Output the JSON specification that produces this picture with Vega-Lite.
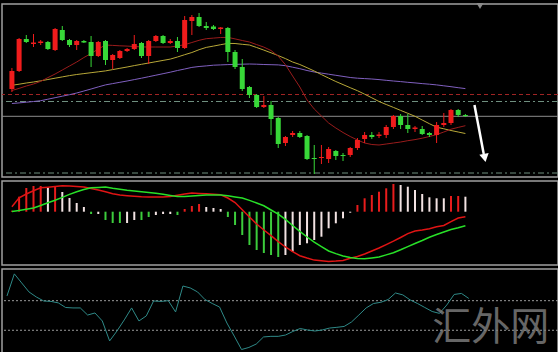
{
"$schema": "https://vega.github.io/schema/vega-lite/v6.json",
"background": "#000000",
"padding": {"left": 0, "top": 2, "right": 2, "bottom": 3},
"spacing": 2,
"config": {"view": {"stroke": "#a0a0a0", "strokeWidth": 1.5}},
"datasets": {
"candles": [
{"i":1,"o":93,"h":114,"l":90,"c":111,"ma1":91.5,"ma2":96.7,"ma3":78.5,"dif":5.0,"dea":0.2,"hist":1,"state":"up","osc":132},
{"i":2,"o":111,"h":144,"l":110,"c":143,"ma1":93.6,"ma2":97.8,"ma3":79.1,"dif":13.9,"dea":1.3,"hist":15,"state":"up","osc":281},
{"i":3,"o":143,"h":147,"l":139,"c":140,"ma1":96,"ma2":99,"ma3":79.8,"dif":17.7,"dea":2.5,"hist":23.7,"state":"up","osc":220},
{"i":4,"o":138,"h":148,"l":135,"c":139.5,"ma1":98,"ma2":100,"ma3":80.5,"dif":21.0,"dea":3.7,"hist":25.7,"state":"up","osc":159},
{"i":5,"o":139,"h":142,"l":137,"c":140.5,"ma1":100.6,"ma2":101.2,"ma3":81.3,"dif":23.9,"dea":6.2,"hist":25.7,"state":"up","osc":125},
{"i":6,"o":140,"h":141,"l":132,"c":133,"ma1":104.4,"ma2":102.5,"ma3":82.8,"dif":24.5,"dea":8.9,"hist":24.7,"state":"weak","osc":98},
{"i":7,"o":132,"h":154,"l":131,"c":153,"ma1":108,"ma2":103.8,"ma3":84.3,"dif":25.2,"dea":11.4,"hist":24.7,"state":"up","osc":95},
{"i":8,"o":152,"h":156,"l":141,"c":142,"ma1":112,"ma2":105.1,"ma3":85.8,"dif":26.0,"dea":14.3,"hist":19.7,"state":"weak","osc":85},
{"i":9,"o":142,"h":143,"l":135,"c":137,"ma1":116,"ma2":106.4,"ma3":87.3,"dif":25.7,"dea":17.3,"hist":13.7,"state":"weak","osc":54},
{"i":10,"o":137,"h":142,"l":132,"c":141,"ma1":120,"ma2":107.5,"ma3":89,"dif":25.3,"dea":20.0,"hist":8.7,"state":"weak","osc":51},
{"i":11,"o":141,"h":142,"l":139,"c":139.5,"ma1":124.5,"ma2":108.4,"ma3":91,"dif":24.7,"dea":22.2,"hist":4.7,"state":"weak","osc":51},
{"i":12,"o":140,"h":146,"l":115,"c":126,"ma1":128.5,"ma2":109.3,"ma3":93,"dif":23.2,"dea":23.9,"hist":-2.3,"state":"down","osc":3},
{"i":13,"o":126,"h":141,"l":125,"c":140,"ma1":133,"ma2":110.2,"ma3":95.1,"dif":21.7,"dea":24.3,"hist":-2.3,"state":"weak","osc":17},
{"i":14,"o":141,"h":142,"l":117,"c":122,"ma1":137,"ma2":111.1,"ma3":97.1,"dif":19.9,"dea":24.7,"hist":-8.3,"state":"down","osc":-37},
{"i":15,"o":122,"h":128,"l":113,"c":127,"ma1":136.6,"ma2":112.4,"ma3":98.4,"dif":18.0,"dea":23.5,"hist":-11.3,"state":"down","osc":-172},
{"i":16,"o":124,"h":132,"l":123,"c":131,"ma1":136.2,"ma2":113.7,"ma3":99.7,"dif":16.6,"dea":22.5,"hist":-11.3,"state":"down","osc":-105},
{"i":17,"o":131,"h":134,"l":130,"c":133,"ma1":135.9,"ma2":115,"ma3":101,"dif":16.0,"dea":21.5,"hist":-11.3,"state":"weak","osc":-30},
{"i":18,"o":133,"h":147,"l":132,"c":138,"ma1":135.5,"ma2":116.4,"ma3":102.4,"dif":15.5,"dea":20.7,"hist":-8.3,"state":"weak","osc":51},
{"i":19,"o":139,"h":140,"l":124,"c":126,"ma1":135.1,"ma2":117.7,"ma3":103.8,"dif":14.9,"dea":20.0,"hist":-8.3,"state":"down","osc":-37},
{"i":20,"o":126,"h":142,"l":118,"c":141,"ma1":135,"ma2":119,"ma3":105.3,"dif":14.7,"dea":19.3,"hist":-5.3,"state":"down","osc":-3},
{"i":21,"o":141,"h":147,"l":140,"c":146,"ma1":135,"ma2":120.3,"ma3":106.8,"dif":14.7,"dea":18.4,"hist":-3.3,"state":"weak","osc":98},
{"i":22,"o":146,"h":147,"l":138,"c":139,"ma1":135,"ma2":121.6,"ma3":108.3,"dif":14.7,"dea":17.4,"hist":-2.3,"state":"weak","osc":95},
{"i":23,"o":139,"h":143,"l":138,"c":141,"ma1":135,"ma2":122.9,"ma3":109.8,"dif":15.2,"dea":16.3,"hist":-2.3,"state":"weak","osc":100},
{"i":24,"o":141,"h":145,"l":130,"c":134,"ma1":136,"ma2":125,"ma3":111.5,"dif":16.5,"dea":15.2,"hist":-3.3,"state":"down","osc":24},
{"i":25,"o":134,"h":166,"l":133,"c":162,"ma1":137.3,"ma2":127.3,"ma3":113,"dif":17.7,"dea":15.1,"hist":2.7,"state":"up","osc":199},
{"i":26,"o":161,"h":167,"l":147,"c":165,"ma1":139.5,"ma2":129.5,"ma3":114.6,"dif":18.7,"dea":15.7,"hist":5.7,"state":"up","osc":186},
{"i":27,"o":165,"h":169,"l":155,"c":156,"ma1":141.7,"ma2":132.3,"ma3":115.5,"dif":18.3,"dea":16.3,"hist":7.7,"state":"up","osc":159},
{"i":28,"o":156,"h":160,"l":152,"c":154,"ma1":143.3,"ma2":134.6,"ma3":116.1,"dif":17.9,"dea":16.7,"hist":4.7,"state":"weak","osc":108},
{"i":29,"o":155.5,"h":157,"l":152,"c":153,"ma1":143.9,"ma2":135.9,"ma3":116.8,"dif":17.5,"dea":16.7,"hist":3.7,"state":"weak","osc":81},
{"i":30,"o":153,"h":155,"l":148,"c":154.5,"ma1":144.5,"ma2":137.3,"ma3":117.1,"dif":16.9,"dea":16.7,"hist":2.7,"state":"weak","osc":57},
{"i":31,"o":154,"h":155,"l":120,"c":130,"ma1":144.6,"ma2":138.6,"ma3":117.4,"dif":13.7,"dea":15.9,"hist":-5.3,"state":"down","osc":-51},
{"i":32,"o":130,"h":132,"l":113,"c":115,"ma1":143.1,"ma2":138.5,"ma3":117.6,"dif":9.2,"dea":14.8,"hist":-13.3,"state":"down","osc":-139},
{"i":33,"o":115,"h":123,"l":91,"c":93,"ma1":141.5,"ma2":137.7,"ma3":117.8,"dif":2.0,"dea":13.7,"hist":-23.3,"state":"down","osc":-230},
{"i":34,"o":95,"h":96,"l":84,"c":87,"ma1":140,"ma2":137,"ma3":118,"dif":-5.3,"dea":11.3,"hist":-33.3,"state":"down","osc":-216},
{"i":35,"o":87,"h":88,"l":74,"c":75,"ma1":137.4,"ma2":134.5,"ma3":117.8,"dif":-12.3,"dea":8.7,"hist":-38.3,"state":"down","osc":-193},
{"i":36,"o":75,"h":86,"l":74,"c":77,"ma1":134.9,"ma2":131.9,"ma3":117.5,"dif":-18.3,"dea":5.9,"hist":-41.3,"state":"down","osc":-145},
{"i":37,"o":77,"h":81,"l":47,"c":63,"ma1":131.5,"ma2":129.2,"ma3":117.3,"dif":-24.0,"dea":1.7,"hist":-43.3,"state":"down","osc":-141},
{"i":38,"o":64,"h":65,"l":34,"c":38,"ma1":125.8,"ma2":126.4,"ma3":117.1,"dif":-29.9,"dea":-2.4,"hist":-45.3,"state":"down","osc":-141},
{"i":39,"o":39,"h":46,"l":36,"c":45,"ma1":117.3,"ma2":123.4,"ma3":116.3,"dif":-35.3,"dea":-7.7,"hist":-43.3,"state":"weak","osc":-132},
{"i":40,"o":47,"h":51,"l":45,"c":49,"ma1":106,"ma2":120,"ma3":114.8,"dif":-40.0,"dea":-13.8,"hist":-40,"state":"weak","osc":-108},
{"i":41,"o":49,"h":51,"l":44,"c":45,"ma1":95,"ma2":117.5,"ma3":113.3,"dif":-44.0,"dea":-19.7,"hist":-33.3,"state":"weak","osc":-88},
{"i":42,"o":46,"h":47,"l":22,"c":23,"ma1":82,"ma2":114.3,"ma3":111.5,"dif":-46.3,"dea":-25.3,"hist":-31.6,"state":"weak","osc":-98},
{"i":43,"o":24,"h":37,"l":8,"c":23,"ma1":73,"ma2":111,"ma3":110,"dif":-48.4,"dea":-30.5,"hist":-28.3,"state":"weak","osc":-105},
{"i":44,"o":24,"h":37,"l":18,"c":25,"ma1":66,"ma2":107.4,"ma3":108.9,"dif":-49.1,"dea":-34.9,"hist":-25,"state":"weak","osc":-98},
{"i":45,"o":23,"h":35,"l":19,"c":33,"ma1":59,"ma2":103.9,"ma3":107.8,"dif":-49.9,"dea":-39.3,"hist":-16.6,"state":"weak","osc":-85},
{"i":46,"o":31,"h":32,"l":22,"c":26,"ma1":54,"ma2":100.5,"ma3":106.7,"dif":-49.4,"dea":-41.9,"hist":-11.6,"state":"weak","osc":-80},
{"i":47,"o":27,"h":29,"l":21,"c":26,"ma1":49.5,"ma2":97.4,"ma3":105.6,"dif":-48.7,"dea":-44.3,"hist":-6.6,"state":"weak","osc":-74},
{"i":48,"o":27,"h":35,"l":25,"c":34,"ma1":45.5,"ma2":94.3,"ma3":104.5,"dif":-46.6,"dea":-45.9,"hist":-1,"state":"weak","osc":-44},
{"i":49,"o":34,"h":44,"l":32,"c":42,"ma1":42,"ma2":91.3,"ma3":103.8,"dif":-44.8,"dea":-46.7,"hist":6.7,"state":"up","osc":3},
{"i":50,"o":43,"h":50,"l":39,"c":47,"ma1":39,"ma2":87.8,"ma3":103.4,"dif":-42.3,"dea":-47.0,"hist":13.4,"state":"up","osc":51},
{"i":51,"o":47,"h":50,"l":43,"c":45,"ma1":37.5,"ma2":84.2,"ma3":103,"dif":-39.3,"dea":-46.2,"hist":16.7,"state":"up","osc":81},
{"i":52,"o":46,"h":50,"l":44,"c":47.5,"ma1":37,"ma2":80.5,"ma3":102.4,"dif":-36.3,"dea":-45.3,"hist":20,"state":"up","osc":89},
{"i":53,"o":47,"h":57,"l":44,"c":55,"ma1":38,"ma2":77.5,"ma3":101.7,"dif":-32.9,"dea":-43.2,"hist":23.4,"state":"up","osc":108},
{"i":54,"o":55,"h":67,"l":53,"c":66,"ma1":39,"ma2":74.6,"ma3":101,"dif":-29.5,"dea":-41.0,"hist":27.7,"state":"up","osc":152},
{"i":55,"o":66,"h":68,"l":53,"c":57,"ma1":40,"ma2":71.6,"ma3":100.4,"dif":-25.8,"dea":-38.1,"hist":26.7,"state":"weak","osc":139},
{"i":56,"o":57,"h":68,"l":49,"c":53,"ma1":41.3,"ma2":68.7,"ma3":99.7,"dif":-21.9,"dea":-34.9,"hist":25,"state":"weak","osc":105},
{"i":57,"o":53,"h":56,"l":50,"c":54.5,"ma1":42.4,"ma2":65.7,"ma3":99.1,"dif":-19.4,"dea":-31.8,"hist":21.7,"state":"weak","osc":81},
{"i":58,"o":53,"h":56,"l":47,"c":48,"ma1":43.8,"ma2":62,"ma3":98.4,"dif":-18.3,"dea":-28.8,"hist":17.7,"state":"weak","osc":54},
{"i":59,"o":49,"h":50,"l":45,"c":47,"ma1":45.5,"ma2":58.3,"ma3":97.8,"dif":-17.0,"dea":-25.6,"hist":14.4,"state":"weak","osc":27},
{"i":60,"o":47,"h":60,"l":39,"c":57,"ma1":47.4,"ma2":54.8,"ma3":97.1,"dif":-15.1,"dea":-22.8,"hist":13.4,"state":"weak","osc":14},
{"i":61,"o":57,"h":69,"l":55,"c":59,"ma1":50,"ma2":53.2,"ma3":96.2,"dif":-13.8,"dea":-20.3,"hist":13.4,"state":"weak","osc":71},
{"i":62,"o":59,"h":73,"l":57,"c":72,"ma1":52.8,"ma2":51.5,"ma3":95.3,"dif":-10.0,"dea":-17.8,"hist":15.7,"state":"up","osc":142},
{"i":63,"o":72,"h":73,"l":65,"c":67,"ma1":54.6,"ma2":50,"ma3":94.3,"dif":-6.3,"dea":-16.1,"hist":15.7,"state":"up","osc":149},
{"i":64,"o":67,"h":68,"l":65,"c":66,"ma1":56.3,"ma2":48.5,"ma3":93.4,"dif":-5.0,"dea":-14.0,"hist":15,"state":"weak","osc":115}
],
"levels": [
{"kind":"resist","p":87.5},
{"kind":"pivot","p":80.5},
{"kind":"last","p":65.7},
{"kind":"support","p":9}
],
"arrow": [{"i":65.26,"p":77,"i2":66.55,"p2":28}],
"arrowhead": [{"i":66.69,"p":24}],
"marker": [{"i":66.03,"p":176}],
"osclevels": [{"v":100},{"v":-100}],
"watermark": [{"label":"汇外网","i":67.0,"v":-84}]
},
"vconcat": [
{
"width": 556, "height": 173,
"layer": [
{"data":{"name":"levels"},"transform":[{"filter":"datum.kind === 'resist'"}],"mark":{"type":"rule","color":"#a02424","strokeDash":[4,3],"strokeWidth":1},"encoding":{"y":{"field":"p","type":"quantitative","scale":{"domain":[5,178],"nice":false,"zero":false},"axis":null}}},
{"data":{"name":"levels"},"transform":[{"filter":"datum.kind === 'pivot' || datum.kind === 'support'"}],"mark":{"type":"rule","color":"#6f8f7f","strokeDash":[6,3,2,3],"strokeWidth":1},"encoding":{"y":{"field":"p","type":"quantitative","scale":{"domain":[5,178],"nice":false,"zero":false},"axis":null}}},
{"data":{"name":"levels"},"transform":[{"filter":"datum.kind === 'last'"}],"mark":{"type":"rule","color":"#8c8c8c","strokeWidth":1},"encoding":{"y":{"field":"p","type":"quantitative","scale":{"domain":[5,178],"nice":false,"zero":false},"axis":null}}},
{"data":{"name":"candles"},"mark":{"type":"line","color":"#8060c0","strokeWidth":1},"encoding":{"x":{"field":"i","type":"quantitative","scale":{"domain":[0.318,76.17],"nice":false,"zero":false},"axis":null},"y":{"field":"ma3","type":"quantitative","scale":{"domain":[5,178],"nice":false,"zero":false},"axis":null}}},
{"data":{"name":"candles"},"mark":{"type":"line","color":"#b8a838","strokeWidth":1},"encoding":{"x":{"field":"i","type":"quantitative","scale":{"domain":[0.318,76.17],"nice":false,"zero":false},"axis":null},"y":{"field":"ma2","type":"quantitative","scale":{"domain":[5,178],"nice":false,"zero":false},"axis":null}}},
{"data":{"name":"candles"},"mark":{"type":"line","color":"#9a1c1c","strokeWidth":1},"encoding":{"x":{"field":"i","type":"quantitative","scale":{"domain":[0.318,76.17],"nice":false,"zero":false},"axis":null},"y":{"field":"ma1","type":"quantitative","scale":{"domain":[5,178],"nice":false,"zero":false},"axis":null}}},
{"data":{"name":"candles"},"mark":{"type":"rule","strokeWidth":1},"encoding":{"x":{"field":"i","type":"quantitative","scale":{"domain":[0.318,76.17],"nice":false,"zero":false},"axis":null},"y":{"field":"l","type":"quantitative","scale":{"domain":[5,178],"nice":false,"zero":false},"axis":null},"y2":{"field":"h"},"color":{"condition":{"test":"datum.c >= datum.o","value":"#f01c1c"},"value":"#38d838"}}},
{"data":{"name":"candles"},"mark":{"type":"bar","width":5},"encoding":{"x":{"field":"i","type":"quantitative","scale":{"domain":[0.318,76.17],"nice":false,"zero":false},"axis":null},"y":{"field":"o","type":"quantitative","scale":{"domain":[5,178],"nice":false,"zero":false},"axis":null},"y2":{"field":"c"},"color":{"condition":{"test":"datum.c >= datum.o","value":"#f01c1c"},"value":"#38d838"}}},
{"data":{"name":"arrow"},"mark":{"type":"rule","color":"#ffffff","strokeWidth":2.5},"encoding":{"x":{"field":"i","type":"quantitative","scale":{"domain":[0.318,76.17],"nice":false,"zero":false},"axis":null},"y":{"field":"p","type":"quantitative","scale":{"domain":[5,178],"nice":false,"zero":false},"axis":null},"x2":{"field":"i2"},"y2":{"field":"p2"}}},
{"data":{"name":"arrowhead"},"mark":{"type":"point","shape":"triangle-down","filled":true,"color":"#ffffff","opacity":1,"size":90,"angle":349},"encoding":{"x":{"field":"i","type":"quantitative","scale":{"domain":[0.318,76.17],"nice":false,"zero":false},"axis":null},"y":{"field":"p","type":"quantitative","scale":{"domain":[5,178],"nice":false,"zero":false},"axis":null}}},
{"data":{"name":"marker"},"mark":{"type":"point","shape":"triangle-down","filled":true,"color":"#8a8a8a","opacity":1,"size":50},"encoding":{"x":{"field":"i","type":"quantitative","scale":{"domain":[0.318,76.17],"nice":false,"zero":false},"axis":null},"y":{"field":"p","type":"quantitative","scale":{"domain":[5,178],"nice":false,"zero":false},"axis":null}}}
]
},
{
"width": 556, "height": 84,
"data": {"name": "candles"},
"layer": [
{"mark":{"type":"bar","width":2},"encoding":{"x":{"field":"i","type":"quantitative","scale":{"domain":[0.318,76.17],"nice":false,"zero":false},"axis":null},"y":{"field":"hist","type":"quantitative","scale":{"domain":[-53.3,30.7],"nice":false,"zero":false},"axis":null},"y2":{"datum":0},"color":{"field":"state","type":"nominal","scale":{"domain":["up","weak","down"],"range":["#e81c1c","#f2e2e2","#3ccc3c"]},"legend":null}}},
{"mark":{"type":"line","color":"#e01414","strokeWidth":1.5},"encoding":{"x":{"field":"i","type":"quantitative","scale":{"domain":[0.318,76.17],"nice":false,"zero":false},"axis":null},"y":{"field":"dif","type":"quantitative","scale":{"domain":[-53.3,30.7],"nice":false,"zero":false},"axis":null}}},
{"mark":{"type":"line","color":"#28e028","strokeWidth":1.5},"encoding":{"x":{"field":"i","type":"quantitative","scale":{"domain":[0.318,76.17],"nice":false,"zero":false},"axis":null},"y":{"field":"dea","type":"quantitative","scale":{"domain":[-53.3,30.7],"nice":false,"zero":false},"axis":null}}}
]
},
{
"width": 556, "height": 86,
"layer": [
{"data":{"name":"osclevels"},"mark":{"type":"rule","color":"#9a9a9a","strokeDash":[2,2],"strokeWidth":1},"encoding":{"y":{"field":"v","type":"quantitative","scale":{"domain":[-267,314],"nice":false,"zero":false},"axis":null}}},
{"data":{"name":"candles"},"mark":{"type":"line","color":"#2f8a88","strokeWidth":1},"encoding":{"x":{"field":"i","type":"quantitative","scale":{"domain":[0.318,76.17],"nice":false,"zero":false},"axis":null},"y":{"field":"osc","type":"quantitative","scale":{"domain":[-267,314],"nice":false,"zero":false},"axis":null}}},
{"data":{"name":"watermark"},"mark":{"type":"text","font":"Noto Sans CJK SC","fontSize":39,"color":"#808080","opacity":0.8,"align":"center","baseline":"middle"},"encoding":{"x":{"field":"i","type":"quantitative","scale":{"domain":[0.318,76.17],"nice":false,"zero":false},"axis":null},"y":{"field":"v","type":"quantitative","scale":{"domain":[-267,314],"nice":false,"zero":false},"axis":null},"text":{"field":"label"}}}
]
}
]
}
